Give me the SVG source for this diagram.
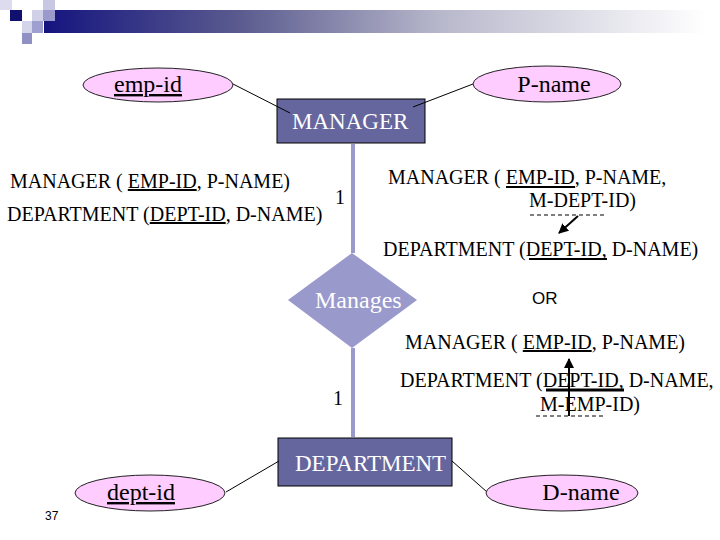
<svg xmlns="http://www.w3.org/2000/svg" width="720" height="540" viewBox="0 0 720 540">
<defs>
<linearGradient id="bar" x1="0" y1="0" x2="1" y2="0">
<stop offset="0" stop-color="#14147f"/>
<stop offset="0.3" stop-color="#5c5c90"/>
<stop offset="0.6" stop-color="#b8b8cc"/>
<stop offset="1" stop-color="#ffffff"/>
</linearGradient>
<marker id="ah" viewBox="0 0 10 10" refX="9" refY="5" markerWidth="5" markerHeight="5" orient="auto">
<path d="M0,0 L10,5 L0,10 z" fill="#000"/>
</marker>
<style>
.serif{font-family:"Liberation Serif","Times New Roman",serif;fill:#000}
.rel{font-size:20px}
.ent{fill:#66669e;stroke:#000;stroke-width:1}
.entt{font-family:"Liberation Serif","Times New Roman",serif;font-size:23px;fill:#fff}
.att{fill:#ffccff;stroke:#222;stroke-width:1}
.attt{font-family:"Liberation Serif","Times New Roman",serif;font-size:24px;fill:#000}
.thin{stroke:#000;stroke-width:1;fill:none}
.vbar{stroke:#9999cc;stroke-width:4;fill:none}
.dash{stroke:#000;stroke-width:1;stroke-dasharray:4,3;fill:none}
</style>
</defs>
<g id="header">
<rect x="44" y="10" width="662" height="23" fill="url(#bar)"/>
<rect x="0" y="0" width="12" height="10" fill="#dcdcee"/>
<rect x="43" y="0" width="12" height="10" fill="#c8c8e4"/>
<rect x="10" y="10" width="12" height="11" fill="#10106e"/>
<rect x="32" y="10" width="11" height="11" fill="#d0d0e8"/>
<rect x="43" y="10" width="12" height="11" fill="#9a9acc"/>
<rect x="22" y="21" width="10" height="12" fill="#d4d4ea"/>
<rect x="32" y="21" width="11" height="12" fill="#a0a0d0"/>
<rect x="22" y="33" width="10" height="11" fill="#9090c4"/>
</g>
<g id="manager">
<rect class="ent" x="277" y="99" width="148" height="44"/>
<text class="entt" x="292" y="129">MANAGER</text>
</g>
<g id="department">
<rect class="ent" x="278" y="438" width="174" height="48"/>
<text class="entt" x="295" y="471">DEPARTMENT</text>
</g>
<g id="connectors">
<line class="thin" x1="233" y1="84" x2="290" y2="113"/>
<line class="thin" x1="413" y1="107" x2="473" y2="84"/>
<line class="vbar" x1="353" y1="144" x2="353" y2="253"/>
<line class="vbar" x1="353" y1="348" x2="353" y2="437"/>
<line class="thin" x1="226" y1="492" x2="279" y2="461"/>
<line class="thin" x1="452" y1="461" x2="487" y2="492"/>
</g>
<g id="emp-id">
<ellipse class="att" cx="158" cy="85" rx="75" ry="17"/>
<text class="attt" x="148" y="92" text-anchor="middle" text-decoration="underline">emp-id</text>
</g>
<g id="p-name">
<ellipse class="att" cx="547" cy="84" rx="74" ry="18"/>
<text class="attt" x="554" y="92" text-anchor="middle">P-name</text>
</g>
<g id="manages">
<polygon points="352,253 417,300 352,348 288,300" fill="#9999cc"/>
<text class="entt" x="315" y="308" style="font-size:24px">Manages</text>
</g>
<g id="dept-id">
<ellipse class="att" cx="150" cy="493" rx="75" ry="18"/>
<text class="attt" x="141" y="500" text-anchor="middle" text-decoration="underline">dept-id</text>
</g>
<g id="d-name">
<ellipse class="att" cx="562" cy="493" rx="76" ry="18"/>
<text class="attt" x="581" y="500" text-anchor="middle">D-name</text>
</g>
<g id="cardinalities">
<text class="serif" x="340" y="204" font-size="20" text-anchor="middle">1</text>
<text class="serif" x="338" y="405" font-size="20" text-anchor="middle">1</text>
</g>
<g id="left-schema">
<text class="serif rel" x="10" y="188">MANAGER ( <tspan text-decoration="underline">EMP-ID</tspan>, P-NAME)</text>
<text class="serif rel" x="7" y="221">DEPARTMENT (<tspan text-decoration="underline">DEPT-ID</tspan>, D-NAME)</text>
</g>
<g id="right-schema-1">
<text class="serif rel" x="388" y="184">MANAGER ( EMP-ID, P-NAME,</text>
<line x1="506" y1="187" x2="575" y2="187" stroke="#000" stroke-width="2"/>
<text class="serif rel" x="529" y="207">M-DEPT-ID)</text>
<line class="dash" x1="530" y1="215" x2="606" y2="215"/>
<line x1="578" y1="216" x2="559" y2="233" stroke="#000" stroke-width="2" marker-end="url(#ah)"/>
<text class="serif rel" x="383" y="256">DEPARTMENT (DEPT-ID, D-NAME)</text>
<line x1="529" y1="259" x2="607" y2="259" stroke="#000" stroke-width="2"/>
</g>
<text x="532" y="304" font-family="Liberation Sans, Arial, sans-serif" font-size="17" fill="#000">OR</text>
<g id="right-schema-2">
<text class="serif rel" x="405" y="349">MANAGER ( <tspan text-decoration="underline">EMP-ID</tspan>, P-NAME)</text>
<text class="serif rel" x="400" y="387">DEPARTMENT (DEPT-ID, D-NAME,</text>
<line x1="546" y1="390" x2="624" y2="390" stroke="#000" stroke-width="3"/>
<text class="serif rel" x="540" y="411">M-EMP-ID)</text>
<line class="dash" x1="536" y1="416" x2="606" y2="416"/>
<line x1="569" y1="416" x2="569" y2="359" stroke="#000" stroke-width="2" marker-end="url(#ah)"/>
</g>
<text x="45" y="520" font-family="Liberation Sans, Arial, sans-serif" font-size="12" fill="#000">37</text>
</svg>
